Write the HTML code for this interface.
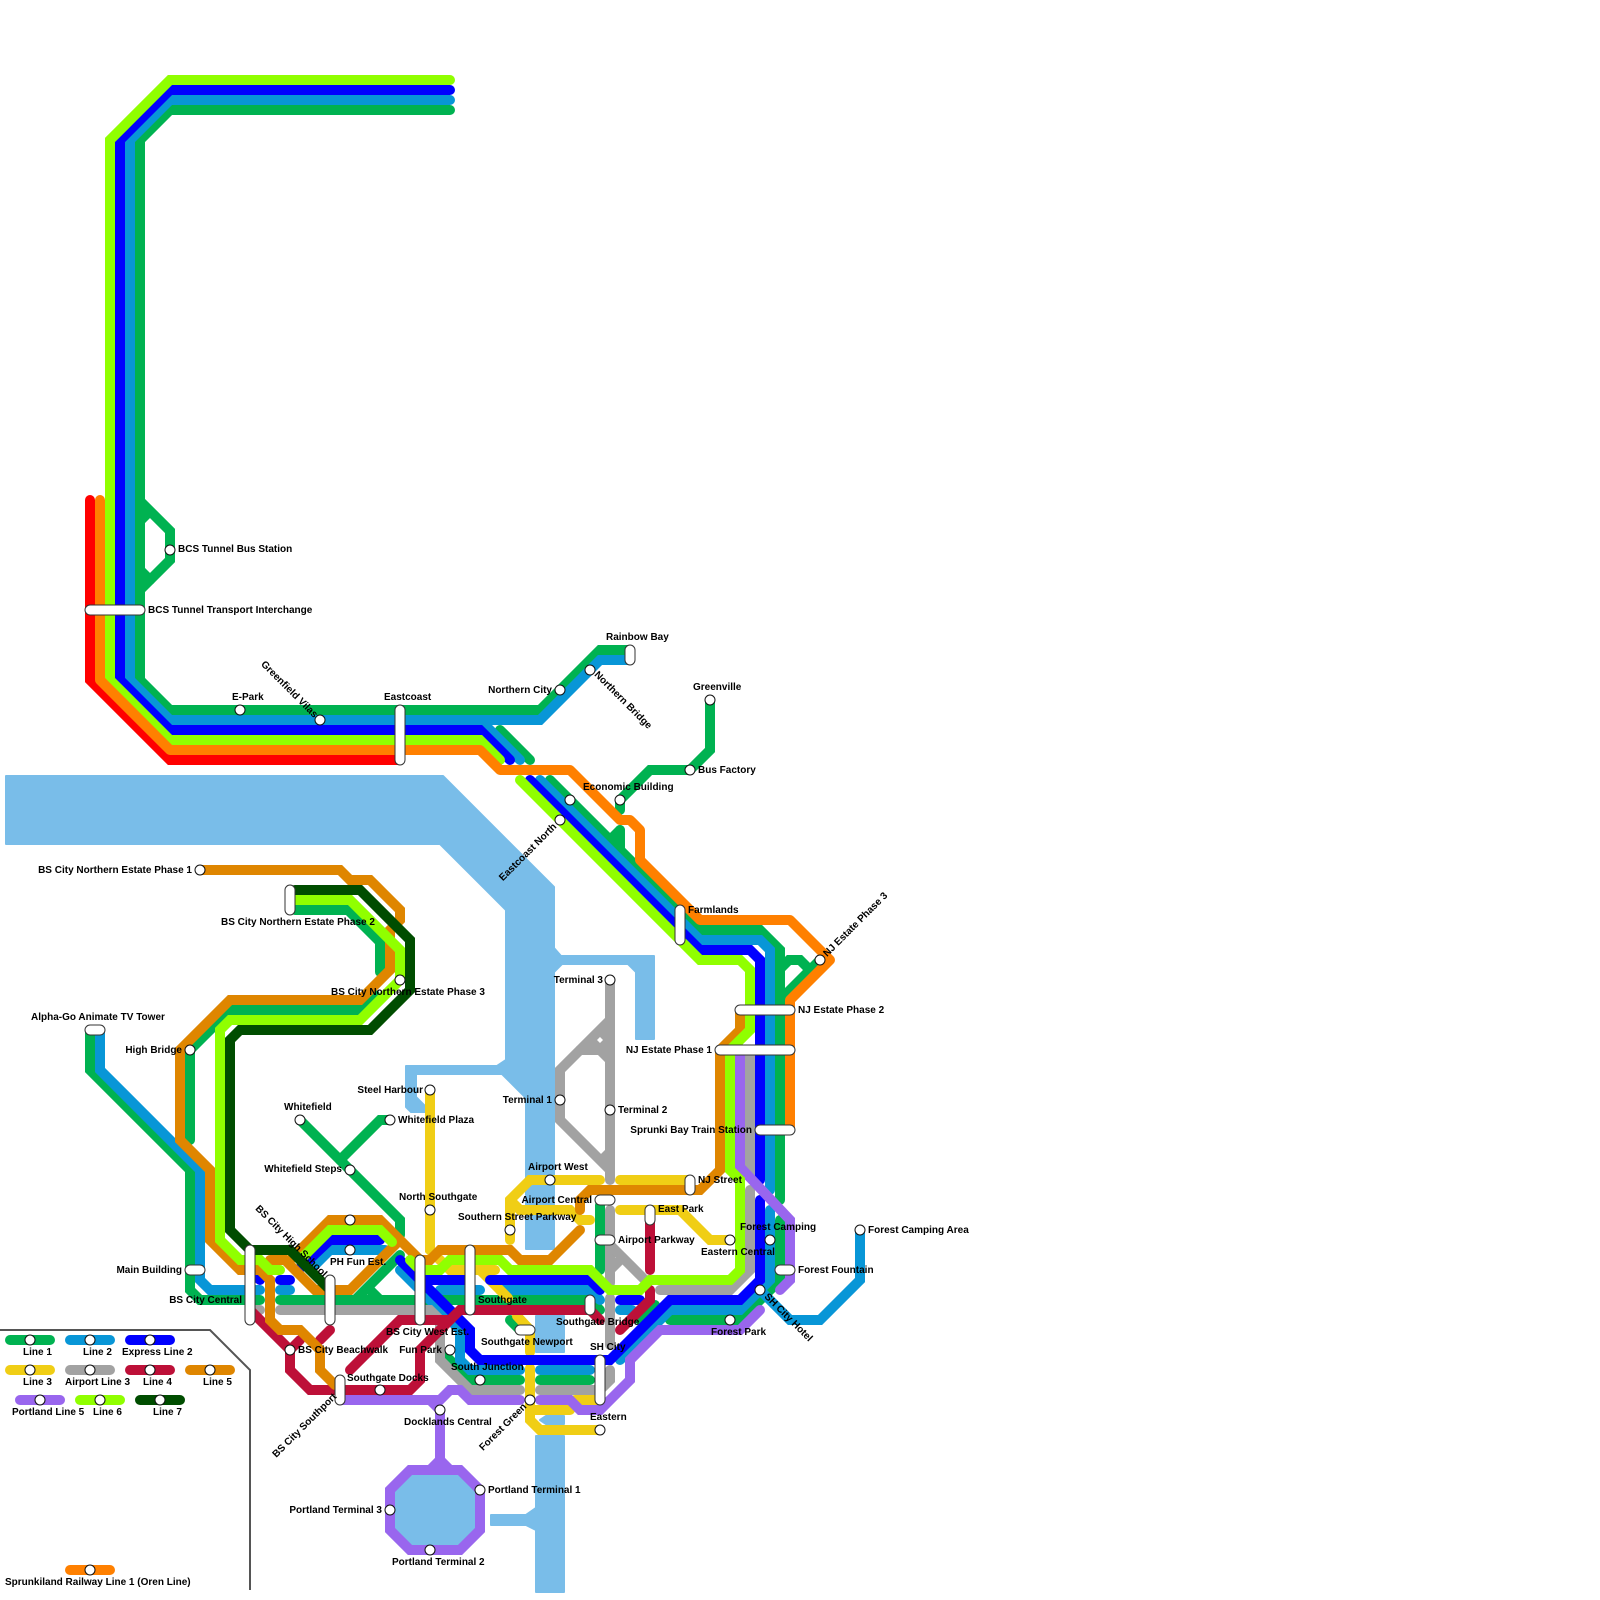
<!DOCTYPE html>
<html><head><meta charset="utf-8"><style>
html,body{margin:0;padding:0;background:#fff}
svg{display:block}
text{font-family:"Liberation Sans",sans-serif;font-size:10px;font-weight:bold;fill:#000}
.l path{fill:none;stroke-width:10;stroke-linecap:round;stroke-linejoin:miter;stroke-miterlimit:6}
.c{fill:#fff;stroke:#333;stroke-width:1}
.e{text-anchor:end}
</style></head><body>
<svg width="1600" height="1600" viewBox="0 0 1600 1600" xmlns="http://www.w3.org/2000/svg">
<rect width="1600" height="1600" fill="#fff"/>
<!-- water -->
<g fill="#79bde9" stroke="#79bde9" stroke-width="2" stroke-linejoin="round">
<polygon points="6,776 443,776 554,887 554,948 561,956 654,956 654,1039 636,1039 636,972 628,964 562,964 554,972 554,1249 526,1249 526,1098 502,1074 416,1074 416,1097 425,1106 425,1112 411,1112 406,1107 406,1066 497,1066 506,1060 506,910 440,844 6,844"/>
<polygon points="536,1316 564,1316 564,1352 536,1352"/>
<polygon points="536,1436 564,1436 564,1592 536,1592 536,1530 526,1525 491,1525 491,1515 526,1515 536,1508"/>
<polygon points="546,1416 564,1416 564,1424 546,1424 540,1420"/>
<polygon points="410,1470 460,1470 480,1490 480,1530 460,1550 410,1550 390,1530 390,1490"/>
</g>
<path d="M0 1330H210L250 1370V1590" fill="none" stroke="#555" stroke-width="2"/>
<g class="l">
<!-- green -->
<g stroke="#00b251">
<path d="M450 110H170L140 140V680L170 710H540L600 650H630"/>
<path d="M500 730L530 760"/>
<path d="M550 780L700 930H760L780 950V1200"/>
<path d="M780 1220V1280L740 1320H670"/>
<path d="M140 501L170 531V560L140 590"/>
<path d="M140 521L147 514"/><path d="M140 570L150 580"/>
<path d="M710 700V750L690 770H650L620 800V810"/>
<path d="M620 830V850"/><path d="M610 840L620 830"/>
<path d="M780 969L789 960H800L810 970"/><path d="M820 960L780 1000"/>
<path d="M295 910H348L380 942V972"/>
<path d="M190 1140V1050L230 1010H360L375 995"/>
<path d="M90 1030V1070L190 1170V1290L200 1300H260"/>
<path d="M280 1300H420L430 1310"/><path d="M440 1300H590L600 1310"/>
<path d="M300 1120L400 1220V1235"/><path d="M340 1160L380 1120H390"/>
<path d="M355 1300L400 1255"/><path d="M370 1290L380 1300"/>
<path d="M440 1350L470 1380H520"/><path d="M540 1380H590"/>
<path d="M600 1205V1270"/><path d="M510 1320L520 1330"/><path d="M640 1320L655 1305"/>
</g>
<!-- line 2 -->
<g stroke="#0896d7">
<path d="M450 100H170L130 140V680L170 720H540L600 660H630"/>
<path d="M480 720L520 760"/>
<path d="M540 780L700 940H760L770 950V1190"/>
<path d="M770 1210V1280L740 1310H670L620 1360"/>
<path d="M760 1290L790 1320H820L860 1280V1230"/>
<path d="M100 1030V1070L200 1170V1280L210 1290H260"/>
<path d="M280 1290H290"/>
<path d="M310 1270L330 1250H385"/>
<path d="M400 1270L460 1330V1360L470 1370H520"/>
<path d="M540 1370H590"/>
<path d="M440 1290H480"/><path d="M500 1290H590L600 1300"/>
<path d="M620 1310H632"/>
</g>
<!-- yellow -->
<g stroke="#f0ce15">
<path d="M430 1090V1250L450 1270H495"/>
<path d="M480 1270L508 1298"/>
<path d="M517 1316L530 1330V1352"/>
<path d="M530 1368V1420L540 1430H600"/>
<path d="M530 1410H570"/>
<path d="M575 1400H600"/>
<path d="M510 1240V1200L530 1180H600"/>
<path d="M620 1180H690"/>
<path d="M510 1200L520 1210H570L580 1220H590"/>
<path d="M620 1210H680L710 1240H730"/>
</g>
<!-- gray -->
<polygon points="592,1040 605,1028 605,1050 585,1050" fill="#a2a2a2"/>
<g stroke="#a2a2a2">
<path d="M610 980V1180"/>
<path d="M610 1020L560 1070V1120L610 1170"/>
<path d="M580 1050H600L610 1060"/>
<path style="stroke-linecap:butt" d="M610 1152L600 1162"/>
<path d="M610 1210V1283"/>
<path d="M610 1245L645 1280"/><path d="M610 1270L622 1258"/>
<path d="M610 1298V1345"/>
<path d="M610 1370V1380L600 1390H540"/>
<path d="M520 1390H470L440 1360V1320L430 1310H420"/>
<path d="M280 1310H420"/><path d="M250 1310H260"/>
<path d="M750 1050V1175"/>
<path d="M750 1190V1270L730 1290H660"/>
</g>
<polygon points="597,1040 600,1037 603,1040 600,1043" fill="#fff"/>
<!-- express -->
<g stroke="#0000ff">
<path d="M450 90H170L120 140V680L170 730H480L510 760"/>
<path d="M530 780L700 950H750L760 960V1180"/>
<path d="M760 1200V1280L740 1300H670L610 1360H480L470 1350V1330L400 1260"/>
<path d="M250 1270L260 1280"/><path d="M280 1280H290"/>
<path d="M298 1270L330 1240H380"/>
<path d="M420 1280H470"/><path d="M490 1280H590L600 1290"/>
<path d="M620 1300H640"/>
</g>
<!-- red line 4 -->
<g stroke="#bd1038">
<path d="M250 1310L290 1350V1370L310 1390H410L420 1380V1350L460 1310H590L600 1320"/>
<path d="M350 1370L400 1320H450"/>
<path d="M290 1350L300 1340"/><path d="M320 1340L330 1330"/>
<path d="M650 1215V1270"/><path d="M620 1330L650 1300V1290"/>
</g>
<!-- line 5 -->
<g stroke="#df8600">
<path d="M200 870H340L350 880H370L400 910V920L390 930V970L360 1000H230L180 1050V1140L210 1170V1240L240 1270H260L270 1280V1320L280 1330H300L320 1350V1370L335 1385"/>
<path d="M270 1260H285L315 1290H350L400 1240"/>
<path d="M290 1260L330 1220H380L420 1260H430L440 1250H510L520 1260H550L580 1230"/>
<path d="M740 1010V1030L720 1050V1170L700 1190H590L580 1200V1210"/>
</g>
<!-- purple -->
<g stroke="#9966ee">
<path d="M340 1400H440L450 1390H460L470 1400H520"/>
<path d="M540 1400H570L580 1410H600L630 1380V1360L660 1330H740L760 1310"/>
<path d="M430 1400L440 1410V1470"/>
<path d="M430 1470L440 1460L450 1470"/>
<path d="M410 1470H460L480 1490V1530L460 1550H410L390 1530V1490Z"/>
<path d="M740 1050V1167L790 1220V1280L780 1290"/>
</g>
<!-- line 6 -->
<g stroke="#90ff00">
<path d="M450 80H170L110 140V680L170 740H480L500 760"/>
<path d="M520 780L700 960H740L750 970V1030L730 1050V1170L740 1180V1270L730 1280H650L640 1290H610L590 1270H510L500 1260H450L440 1270H420L410 1260"/>
<path d="M295 900H350L400 950V980L360 1020H230L220 1030V1240L240 1260H260L270 1270H280"/>
<path d="M300 1260L330 1230H380L392 1242"/>
</g>
<!-- line 7 -->
<g stroke="#004d00">
<path d="M295 890H360L410 940V990L370 1030H240L230 1040V1230L250 1250H290L330 1290"/>
</g>
<!-- red & oren -->
<path stroke="#ff0000" d="M90 500V680L170 760H400"/>
<path stroke="#ff8000" style="stroke-linejoin:round" d="M100 500V680L170 750H480L500 770H570L620 820H630L640 830V860L700 920H790L830 960L790 1000V1130"/>
<!-- legend lines -->
<path stroke="#00b251" d="M10 1340H50"/><path stroke="#0896d7" d="M70 1340H110"/><path stroke="#0000ff" d="M130 1340H170"/>
<path stroke="#f0ce15" d="M10 1370H50"/><path stroke="#a2a2a2" d="M70 1370H110"/><path stroke="#bd1038" d="M130 1370H170"/><path stroke="#df8600" d="M190 1370H230"/>
<path stroke="#9966ee" d="M20 1400H60"/><path stroke="#90ff00" d="M80 1400H120"/><path stroke="#004d00" d="M140 1400H180"/>
<path stroke="#ff8000" d="M70 1570H110"/>
</g>
<!-- capsules -->
<g class="c">
<rect x="85" y="605" width="60" height="10" rx="5"/>
<rect x="395" y="705" width="10" height="60" rx="5"/>
<rect x="625" y="645" width="10" height="20" rx="5"/>
<rect x="675" y="905" width="10" height="40" rx="5"/>
<rect x="735" y="1005" width="60" height="10" rx="5"/>
<rect x="715" y="1045" width="80" height="10" rx="5"/>
<rect x="755" y="1125" width="40" height="10" rx="5"/>
<rect x="685" y="1175" width="10" height="20" rx="5"/>
<rect x="595" y="1195" width="20" height="10" rx="5"/>
<rect x="595" y="1235" width="20" height="10" rx="5"/>
<rect x="645" y="1205" width="10" height="20" rx="5"/>
<rect x="775" y="1265" width="20" height="10" rx="5"/>
<rect x="285" y="885" width="10" height="30" rx="5"/>
<rect x="85" y="1025" width="20" height="10" rx="5"/>
<rect x="185" y="1265" width="20" height="10" rx="5"/>
<rect x="245" y="1245" width="10" height="80" rx="5"/>
<rect x="325" y="1275" width="10" height="50" rx="5"/>
<rect x="415" y="1255" width="10" height="70" rx="5"/>
<rect x="465" y="1245" width="10" height="70" rx="5"/>
<rect x="585" y="1295" width="10" height="20" rx="5"/>
<rect x="515" y="1325" width="20" height="10" rx="5"/>
<rect x="595" y="1355" width="10" height="50" rx="5"/>
<rect x="335" y="1375" width="10" height="30" rx="5"/>
</g>
<!-- stations -->
<g fill="#fff" stroke="#111" stroke-width="1">
<circle cx="30" cy="1340" r="5"/><circle cx="90" cy="1340" r="5"/><circle cx="150" cy="1340" r="5"/>
<circle cx="30" cy="1370" r="5"/><circle cx="90" cy="1370" r="5"/><circle cx="150" cy="1370" r="5"/><circle cx="210" cy="1370" r="5"/>
<circle cx="40" cy="1400" r="5"/><circle cx="100" cy="1400" r="5"/><circle cx="160" cy="1400" r="5"/>
<circle cx="90" cy="1570" r="5"/>
<circle cx="170" cy="550" r="5"/><circle cx="240" cy="710" r="5"/><circle cx="320" cy="720" r="5"/><circle cx="560" cy="690" r="5"/><circle cx="590" cy="670" r="5"/>
<circle cx="710" cy="700" r="5"/><circle cx="690" cy="770" r="5"/><circle cx="620" cy="800" r="5"/><circle cx="570" cy="800" r="5"/><circle cx="560" cy="820" r="5"/>
<circle cx="820" cy="960" r="5"/><circle cx="200" cy="870" r="5"/><circle cx="400" cy="980" r="5"/><circle cx="190" cy="1050" r="5"/>
<circle cx="430" cy="1090" r="5"/><circle cx="300" cy="1120" r="5"/><circle cx="390" cy="1120" r="5"/><circle cx="350" cy="1170" r="5"/>
<circle cx="430" cy="1210" r="5"/><circle cx="350" cy="1220" r="5"/><circle cx="350" cy="1250" r="5"/><circle cx="510" cy="1230" r="5"/>
<circle cx="550" cy="1180" r="5"/><circle cx="610" cy="980" r="5"/><circle cx="560" cy="1100" r="5"/><circle cx="610" cy="1110" r="5"/>
<circle cx="730" cy="1240" r="5"/><circle cx="770" cy="1240" r="5"/><circle cx="860" cy="1230" r="5"/><circle cx="760" cy="1290" r="5"/><circle cx="730" cy="1320" r="5"/>
<circle cx="290" cy="1350" r="5"/><circle cx="450" cy="1350" r="5"/><circle cx="480" cy="1380" r="5"/><circle cx="380" cy="1390" r="5"/>
<circle cx="530" cy="1400" r="5"/><circle cx="440" cy="1410" r="5"/><circle cx="600" cy="1430" r="5"/>
<circle cx="480" cy="1490" r="5"/><circle cx="390" cy="1510" r="5"/><circle cx="430" cy="1550" r="5"/>
</g>
<!-- labels -->
<text x="23" y="1355">Line 1</text><text x="83" y="1355">Line 2</text><text x="122" y="1355">Express Line 2</text>
<text x="23" y="1385">Line 3</text><text x="65" y="1385">Airport Line 3</text><text x="143" y="1385">Line 4</text><text x="203" y="1385">Line 5</text>
<text x="12" y="1415">Portland Line 5</text><text x="93" y="1415">Line 6</text><text x="153" y="1415">Line 7</text>
<text x="5" y="1585">Sprunkiland Railway Line 1 (Oren Line)</text>
<text x="178" y="552">BCS Tunnel Bus Station</text>
<text x="148" y="613">BCS Tunnel Transport Interchange</text>
<text x="232" y="700">E-Park</text>
<text x="384" y="700">Eastcoast</text>
<text x="552" y="693" class="e">Northern City</text>
<text x="606" y="640">Rainbow Bay</text>
<text x="693" y="690">Greenville</text>
<text x="698" y="773">Bus Factory</text>
<text x="583" y="790">Economic Building</text>
<text x="688" y="913">Farmlands</text>
<text x="798" y="1013">NJ Estate Phase 2</text>
<text x="712" y="1053" class="e">NJ Estate Phase 1</text>
<text x="752" y="1133" class="e">Sprunki Bay Train Station</text>
<text x="603" y="983" class="e">Terminal 3</text>
<text x="552" y="1103" class="e">Terminal 1</text>
<text x="618" y="1113">Terminal 2</text>
<text x="192" y="873" class="e">BS City Northern Estate Phase 1</text>
<text x="221" y="925">BS City Northern Estate Phase 2</text>
<text x="331" y="995">BS City Northern Estate Phase 3</text>
<text x="31" y="1020">Alpha-Go Animate TV Tower</text>
<text x="182" y="1053" class="e">High Bridge</text>
<text x="423" y="1093" class="e">Steel Harbour</text>
<text x="284" y="1110">Whitefield</text>
<text x="398" y="1123">Whitefield Plaza</text>
<text x="342" y="1172" class="e">Whitefield Steps</text>
<text x="399" y="1200">North Southgate</text>
<text x="458" y="1220">Southern Street Parkway</text>
<text x="528" y="1170">Airport West</text>
<text x="592" y="1203" class="e">Airport Central</text>
<text x="618" y="1243">Airport Parkway</text>
<text x="658" y="1212">East Park</text>
<text x="698" y="1183">NJ Street</text>
<text x="701" y="1255">Eastern Central</text>
<text x="740" y="1230">Forest Camping</text>
<text x="798" y="1273">Forest Fountain</text>
<text x="868" y="1233">Forest Camping Area</text>
<text x="182" y="1273" class="e">Main Building</text>
<text x="242" y="1303" class="e">BS City Central</text>
<text x="330" y="1265">PH Fun Est.</text>
<text x="298" y="1353">BS City Beachwalk</text>
<text x="347" y="1381">Southgate Docks</text>
<text x="386" y="1335">BS City West Est.</text>
<text x="478" y="1303">Southgate</text>
<text x="556" y="1325">Southgate Bridge</text>
<text x="442" y="1353" class="e">Fun Park</text>
<text x="481" y="1345">Southgate Newport</text>
<text x="451" y="1370">South Junction</text>
<text x="590" y="1350">SH City</text>
<text x="590" y="1420">Eastern</text>
<text x="404" y="1425">Docklands Central</text>
<text x="488" y="1493">Portland Terminal 1</text>
<text x="382" y="1513" class="e">Portland Terminal 3</text>
<text x="392" y="1565">Portland Terminal 2</text>
<text x="711" y="1335">Forest Park</text>
<text transform="translate(316,716) rotate(45)" class="e" y="3">Greenfield Vilas</text>
<text transform="translate(596,673) rotate(45)" y="3">Northern Bridge</text>
<text transform="translate(257,1207) rotate(45)" y="3">BS City High School</text>
<text transform="translate(766,1295) rotate(45)" y="3">SH City Hotel</text>
<text transform="translate(335,1395) rotate(-45)" class="e" y="3">BS City Southport</text>
<text transform="translate(525,1405) rotate(-45)" class="e" y="3">Forest Green</text>
<text transform="translate(555,825) rotate(-45)" class="e" y="3">Eastcoast North</text>
<text transform="translate(825,955) rotate(-45)" y="3">NJ Estate Phase 3</text>
</svg>
</body></html>
